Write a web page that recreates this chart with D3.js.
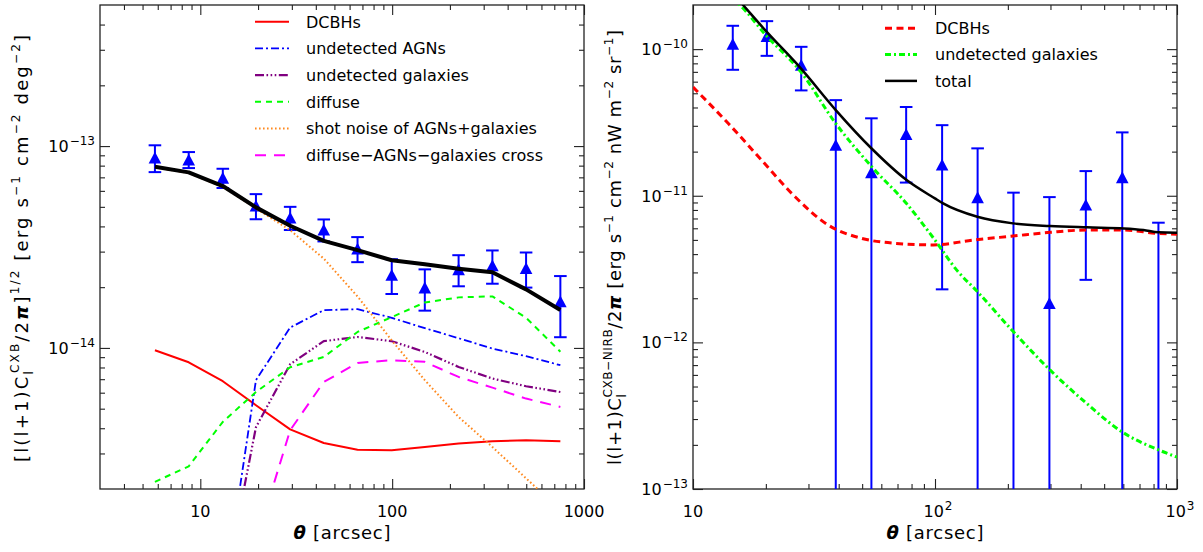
<!DOCTYPE html>
<html>
<head>
<meta charset="utf-8">
<script src="https://cdn.jsdelivr.net/npm/d3@7"></script>
<style>
  body { margin: 0; background: #fff; }
  svg { display: block; }
  text { font-family: "DejaVu Sans", sans-serif; fill: #000; }
</style>
</head>
<body>
<svg id="chart" width="1203" height="552"></svg>
<script>
// ---------------- Left panel: CXB fluctuation amplitude ----------------
const thetaL = [5.8, 8.7, 13.1, 19.5, 29.4, 44, 66, 99.5, 148, 222, 333, 499, 753];
const obsL = [8.76e-14, 8.56e-14, 6.96e-14, 5.06e-14, 4.42e-14, 3.85e-14, 3.10e-14,
              2.30e-14, 1.99e-14, 2.45e-14, 2.56e-14, 2.48e-14, 1.70e-14];
const errL = [1.33e-14, 7.8e-15, 7.6e-15, 7.2e-15, 5.8e-15, 4.8e-15, 4.4e-15,
              4.5e-15, 4.6e-15, 4.3e-15, 4.8e-15, 4.9e-15, 5.7e-15];
const totalL = [7.90e-14, 7.41e-14, 6.34e-14, 4.97e-14, 4.03e-14, 3.39e-14, 3.05e-14,
                2.72e-14, 2.60e-14, 2.47e-14, 2.37e-14, 1.95e-14, 1.54e-14];
const dcbhL = [9.74e-15, 8.49e-15, 6.84e-15, 5.20e-15, 3.95e-15, 3.38e-15, 3.13e-15,
               3.11e-15, 3.23e-15, 3.36e-15, 3.45e-15, 3.49e-15, 3.45e-15];
const agnL = [2e-17, 1e-16, 5.5e-16, 6.92e-15, 1.262e-14, 1.538e-14, 1.556e-14,
              1.41e-14, 1.253e-14, 1.117e-14, 9.93e-15, 9.10e-15, 8.21e-15];
const galL = [1e-17, 1e-16, 5.8e-16, 4.05e-15, 8.30e-15, 1.08e-14, 1.133e-14,
              1.08e-14, 9.55e-15, 8.05e-15, 7.05e-15, 6.46e-15, 6.05e-15];
const diffuseL = [2.17e-15, 2.59e-15, 4.30e-15, 6.05e-15, 8.02e-15, 9.02e-15, 1.20e-14,
                  1.42e-14, 1.68e-14, 1.78e-14, 1.80e-14, 1.41e-14, 9.58e-15];
const shotL = [7.84e-14, 7.35e-14, 6.28e-14, 4.91e-14, 3.83e-14, 2.77e-14, 1.80e-14,
               1.09e-14, 6.92e-15, 4.55e-15, 3.23e-15, 2.26e-15, 1.57e-15];
const crossL = [1e-17, 1e-17, 1e-16, 1.09e-15, 3.91e-15, 6.78e-15, 8.43e-15,
                8.69e-15, 8.53e-15, 7.18e-15, 6.36e-15, 5.61e-15, 5.10e-15];
const legendL = ["DCBHs", "undetected AGNs", "undetected galaxies", "diffuse",
                 "shot noise of AGNs+galaxies", "diffuse\u2212AGNs\u2212galaxies cross"];
const xTicksL = [10, 100, 1000];
const xTickTextL = ["10", "100", "1000"];
const yTicksL = [1e-13, 1e-14];
const yTickExpL = ["\u221213", "\u221214"];

// ---------------- Right panel: CXB-NIRB cross power ----------------
const thetaR = [14.6, 20.2, 28.0, 38.9, 54.6, 76.0, 107, 150, 211, 297, 420, 594, 838];
const obsR = [1.083e-10, 1.226e-10, 7.8e-11, 2.22e-11, 1.444e-11, 2.63e-11, 1.63e-11,
              9.75e-12, -1.0e-12, 1.85e-12, 8.70e-12, 1.335e-11, -1.5e-12];
const errR = [3.6e-11, 3.26e-11, 2.57e-11, 2.27e-11, 1.93e-11, 1.40e-11, 1.40e-11,
              1.13e-11, 1.15e-11, 7.94e-12, 6.03e-12, 1.37e-11, 8.05e-12];
const dcbhThetaR = [10, 14.0, 19.2, 26.4, 36.2, 49.8, 68.3, 98.5, 144.3, 210, 298.5, 424.6, 604.6, 822, 1000];
const dcbhR = [5.51e-11, 3.11e-11, 1.75e-11, 9.84e-12, 6.31e-12, 5.12e-12, 4.74e-12, 4.62e-12,
               4.99e-12, 5.31e-12, 5.63e-12, 5.84e-12, 5.84e-12, 5.55e-12, 5.46e-12];
const galThetaR = [10, 14, 15.6, 20.0, 27.9, 38.9, 54.7, 76.1, 99.9, 123, 149.6, 211, 298.5, 422, 591, 838, 1000];
const galR = [4.2e-10, 2.3e-10, 2.0e-10, 1.245e-10, 7.00e-11, 3.11e-11, 1.58e-11, 8.88e-12, 4.99e-12,
              3.11e-12, 2.22e-12, 1.18e-12, 6.49e-13, 3.85e-13, 2.46e-13, 1.85e-13, 1.65e-13];
const totThetaR = [10, 14, 16.1, 20.0, 27.9, 38.9, 54.7, 76.3, 99.9, 108, 149.6, 210, 298.5, 424.6, 604.6, 727, 838, 1000];
const totR = [4.75e-10, 2.6e-10, 2.0e-10, 1.333e-10, 7.39e-11, 3.84e-11, 2.10e-11, 1.28e-11, 9.60e-12,
              8.87e-12, 7.19e-12, 6.48e-12, 6.22e-12, 6.09e-12, 5.99e-12, 5.84e-12, 5.63e-12, 5.60e-12];
const legendR = ["DCBHs", "undetected galaxies", "total"];
const xTicksR = [10, 100, 1000];
const xTickExpR = ["", "2", "3"];
const yTicksR = [1e-10, 1e-11, 1e-12, 1e-13];
const yTickExpR = ["\u221210", "\u221211", "\u221212", "\u221213"];

// ---------------- helpers ----------------
const svg = d3.select("#chart");
svg.append("rect").attr("width", 1203).attr("height", 552).attr("fill", "#fff");

function minorTicks(lo, hi) {
  const out = [];
  for (let e = Math.floor(Math.log10(lo)) - 1; e <= Math.ceil(Math.log10(hi)); e++) {
    for (let m = 2; m <= 9; m++) {
      const v = m * Math.pow(10, e);
      if (v > lo * 1.0001 && v < hi * 0.9999) out.push(v);
    }
  }
  return out;
}
function majorTicks(lo, hi) {
  const out = [];
  for (let e = Math.ceil(Math.log10(lo) - 1e-9); e <= Math.floor(Math.log10(hi) + 1e-9); e++) out.push(Math.pow(10, e));
  return out;
}

// Rich text: sequence of runs with baseline shifts (sup/sub)
function rich(textSel, runs) {
  let cur = 0;
  runs.forEach(r => {
    const shift = r.k === "sup" ? -(r.up || 8) : r.k === "sub" ? (r.down || 5) : 0;
    const ts = textSel.append("tspan").text(r.t).attr("dy", shift - cur);
    if (r.size) ts.attr("font-size", r.size);
    if (r.dx) ts.attr("dx", r.dx);
    if (r.italic) ts.attr("font-style", "italic");
    if (r.bold) ts.attr("font-weight", "bold");
    if (r.family) ts.attr("font-family", r.family);
    cur = shift;
  });
  return textSel;
}

function frame(g, x, y, id) {
  const [x0, x1] = x.range(), [y1, y0] = y.range();
  const xd = x.domain(), yd = y.domain();
  const maj = majorTicks(xd[0], xd[1]), minX = minorTicks(xd[0], xd[1]);
  const majY = majorTicks(yd[0], yd[1]), minY = minorTicks(yd[0], yd[1]);
  const style = s => s.call(a => a.select(".domain").remove())
                      .call(a => a.selectAll("line").attr("stroke", "#222").attr("stroke-width", 1.1));
  const axes = [
    [d3.axisBottom, `translate(0,${y1})`, x, maj, minX],
    [d3.axisTop, `translate(0,${y0})`, x, maj, minX],
    [d3.axisLeft, `translate(${x0},0)`, y, majY, minY],
    [d3.axisRight, `translate(${x1},0)`, y, majY, minY]
  ];
  axes.forEach(([fn, tr, sc, mj, mn]) => {
    g.append("g").attr("transform", tr)
      .call(fn(sc).tickValues(mj).tickSize(-10).tickFormat(""))
      .call(style);
    g.append("g").attr("transform", tr)
      .call(fn(sc).tickValues(mn).tickSize(-5).tickFormat(""))
      .call(style);
  });
  g.append("rect").attr("x", x0).attr("y", y0).attr("width", x1 - x0).attr("height", y1 - y0)
    .attr("fill", "none").attr("stroke", "#222").attr("stroke-width", 1.3);
  g.append("clipPath").attr("id", id).append("rect")
    .attr("x", x0).attr("y", y0).attr("width", x1 - x0).attr("height", y1 - y0);
}

function drawPoints(g, x, y, th, val, err, bw) {
  const yMin = y.domain()[0];
  const [yb] = y.range();
  th.forEach((t, i) => {
    const hi = val[i] + err[i], lo = val[i] - err[i];
    const yHi = y(hi);
    const yLo = lo > yMin ? y(lo) : yb + 20;
    const cx = x(t);
    g.append("line").attr("x1", cx).attr("x2", cx).attr("y1", yHi).attr("y2", yLo)
      .attr("stroke", "#0000ff").attr("stroke-width", bw);
    [yHi, yLo].forEach(cy => g.append("line").attr("x1", cx - 6.3).attr("x2", cx + 6.3)
      .attr("y1", cy).attr("y2", cy).attr("stroke", "#0000ff").attr("stroke-width", bw));
    if (val[i] > yMin) {
      g.append("path").attr("d", "M0,-6L6.3,5.8L-6.3,5.8Z")
        .attr("transform", `translate(${cx},${y(val[i])})`).attr("fill", "#0000ff");
    }
  });
}

function drawCurve(g, x, y, th, vals, st, curve) {
  const line = d3.line().x(d => x(d[0])).y(d => y(d[1])).curve(curve || d3.curveLinear);
  g.append("path").attr("d", line(th.map((t, i) => [t, vals[i]])))
    .attr("fill", "none").attr("stroke", st.color).attr("stroke-width", st.width)
    .attr("stroke-dasharray", st.dash || null).attr("stroke-linejoin", "round");
}

// ---------------- left panel ----------------
const xL = d3.scaleLog().domain([3, 1000]).range([100, 584]);
const yL = d3.scaleLog().domain([2e-15, 5e-13]).range([489, 5]);
const gL = svg.append("g");
frame(gL, xL, yL, "clipL");
const pL = gL.append("g").attr("clip-path", "url(#clipL)");

const stylesL = [
  { color: "#ff0000", width: 2 },
  { color: "#0000ff", width: 1.8, dash: "8,3,2,3" },
  { color: "#800080", width: 2.2, dash: "9,2.5,1.6,2.5,1.6,2.5,1.6,2.5" },
  { color: "#00ff00", width: 2, dash: "6,5" },
  { color: "#ff8a20", width: 2, dash: "1.6,2.4" },
  { color: "#ff00ff", width: 2, dash: "11,8" }
];
const seriesL = [dcbhL, agnL, galL, diffuseL, shotL, crossL];
drawPoints(pL, xL, yL, thetaL, obsL, errL, 2);
seriesL.forEach((s, i) => drawCurve(pL, xL, yL, thetaL, s, stylesL[i]));
drawCurve(pL, xL, yL, thetaL, totalL, { color: "#000", width: 4 });

legendL.forEach((name, i) => {
  const cy = 21.7 + i * 26.7;
  gL.append("line").attr("x1", 255).attr("x2", 289).attr("y1", cy).attr("y2", cy)
    .attr("stroke", stylesL[i].color).attr("stroke-width", stylesL[i].width)
    .attr("stroke-dasharray", stylesL[i].dash || null);
  gL.append("text").attr("x", 306).attr("y", cy + 5.8).attr("font-size", 16).text(name);
});

xTicksL.forEach((v, i) => {
  gL.append("text").attr("x", xL(v)).attr("y", 517).attr("text-anchor", "middle")
    .attr("font-size", 16).attr("font-family", "Liberation Sans").text(xTickTextL[i]);
});
yTicksL.forEach((v, i) => {
  const t = gL.append("text").attr("x", 95).attr("y", yL(v) + 6).attr("text-anchor", "end")
    .attr("font-size", 16).attr("font-family", "Liberation Sans");
  rich(t, [{ t: "10" }, { t: yTickExpL[i], k: "sup", up: 7, size: 12, dx: 1, family: "DejaVu Sans" }]);
});

// axis titles
rich(gL.append("text").attr("x", 342).attr("y", 538.5).attr("text-anchor", "middle").attr("font-size", 18)
       .attr("textLength", 97).attr("lengthAdjust", "spacing"),
  [{ t: "\u03b8", italic: true, bold: true }, { t: " [arcsec]" }]);
rich(gL.append("text").attr("transform", "translate(28,248.5) rotate(-90)").attr("text-anchor", "middle")
       .attr("font-size", 18).attr("textLength", 427).attr("lengthAdjust", "spacing"),
  [{ t: "[l(l+1)C" }, { t: "l", k: "sub", down: 5, size: 12 }, { t: "CXB", k: "sup", up: 9, size: 12, dx: -4 },
   { t: "/2" }, { t: "\u03c0", italic: true, bold: true }, { t: "]" }, { t: "1/2", k: "sup", up: 9, size: 12 },
   { t: "  [erg s" }, { t: "\u22121", k: "sup", size: 12 }, { t: "  cm" }, { t: "\u22122", k: "sup", size: 12 },
   { t: "  deg" }, { t: "\u22122", k: "sup", size: 12 }, { t: "]" }]);

// ---------------- right panel ----------------
const xR = d3.scaleLog().domain([10, 1000]).range([693, 1177]);
const yR = d3.scaleLog().domain([1e-13, 2e-10]).range([489, 5]);
const gR = svg.append("g");
frame(gR, xR, yR, "clipR");
const pR = gR.append("g").attr("clip-path", "url(#clipR)");

const stylesR = [
  { color: "#ff0000", width: 3, dash: "7,4.5" },
  { color: "#00ff00", width: 3, dash: "6,3,2,3" },
  { color: "#000", width: 2.5 }
];
drawPoints(pR, xR, yR, thetaR, obsR, errR, 2);
drawCurve(pR, xR, yR, dcbhThetaR, dcbhR, stylesR[0], d3.curveMonotoneX);
drawCurve(pR, xR, yR, galThetaR, galR, stylesR[1], d3.curveMonotoneX);
drawCurve(pR, xR, yR, totThetaR, totR, stylesR[2], d3.curveMonotoneX);

legendR.forEach((name, i) => {
  const cy = 28.3 + i * 26.3;
  gR.append("line").attr("x1", 885).attr("x2", 917).attr("y1", cy).attr("y2", cy)
    .attr("stroke", stylesR[i].color).attr("stroke-width", stylesR[i].width)
    .attr("stroke-dasharray", stylesR[i].dash || null);
  gR.append("text").attr("x", 935).attr("y", cy + 5.8).attr("font-size", 16).text(name);
});

xTicksR.forEach((v, i) => {
  const t = gR.append("text").attr("x", xR(v) + (xTickExpR[i] ? 3 : 0)).attr("y", 517).attr("text-anchor", "middle")
    .attr("font-size", 16).attr("font-family", "Liberation Sans");
  const runs = [{ t: "10" }];
  if (xTickExpR[i]) runs.push({ t: xTickExpR[i], k: "sup", up: 7, size: 12, dx: 1, family: "DejaVu Sans" });
  rich(t, runs);
});
yTicksR.forEach((v, i) => {
  const t = gR.append("text").attr("x", 688).attr("y", yR(v) + 6).attr("text-anchor", "end")
    .attr("font-size", 16).attr("font-family", "Liberation Sans");
  rich(t, [{ t: "10" }, { t: yTickExpR[i], k: "sup", up: 7, size: 12, dx: 1, family: "DejaVu Sans" }]);
});

rich(gR.append("text").attr("x", 935).attr("y", 538.5).attr("text-anchor", "middle").attr("font-size", 18)
       .attr("textLength", 97).attr("lengthAdjust", "spacing"),
  [{ t: "\u03b8", italic: true, bold: true }, { t: " [arcsec]" }]);
rich(gR.append("text").attr("transform", "translate(621,247.5) rotate(-90)").attr("text-anchor", "middle")
       .attr("font-size", 18).attr("textLength", 435).attr("lengthAdjust", "spacing"),
  [{ t: "l(l+1)C" }, { t: "l", k: "sub", down: 5, size: 12 }, { t: "CXB\u2212NIRB", k: "sup", up: 9, size: 12, dx: -4 },
   { t: "/2" }, { t: "\u03c0", italic: true, bold: true },
   { t: "  [erg s" }, { t: "\u22121", k: "sup", size: 12 }, { t: "  cm" }, { t: "\u22122", k: "sup", size: 12 },
   { t: "  nW  m" }, { t: "\u22122", k: "sup", size: 12 }, { t: "  sr" }, { t: "\u22121", k: "sup", size: 12 }, { t: "]" }]);
</script>
</body>
</html>
